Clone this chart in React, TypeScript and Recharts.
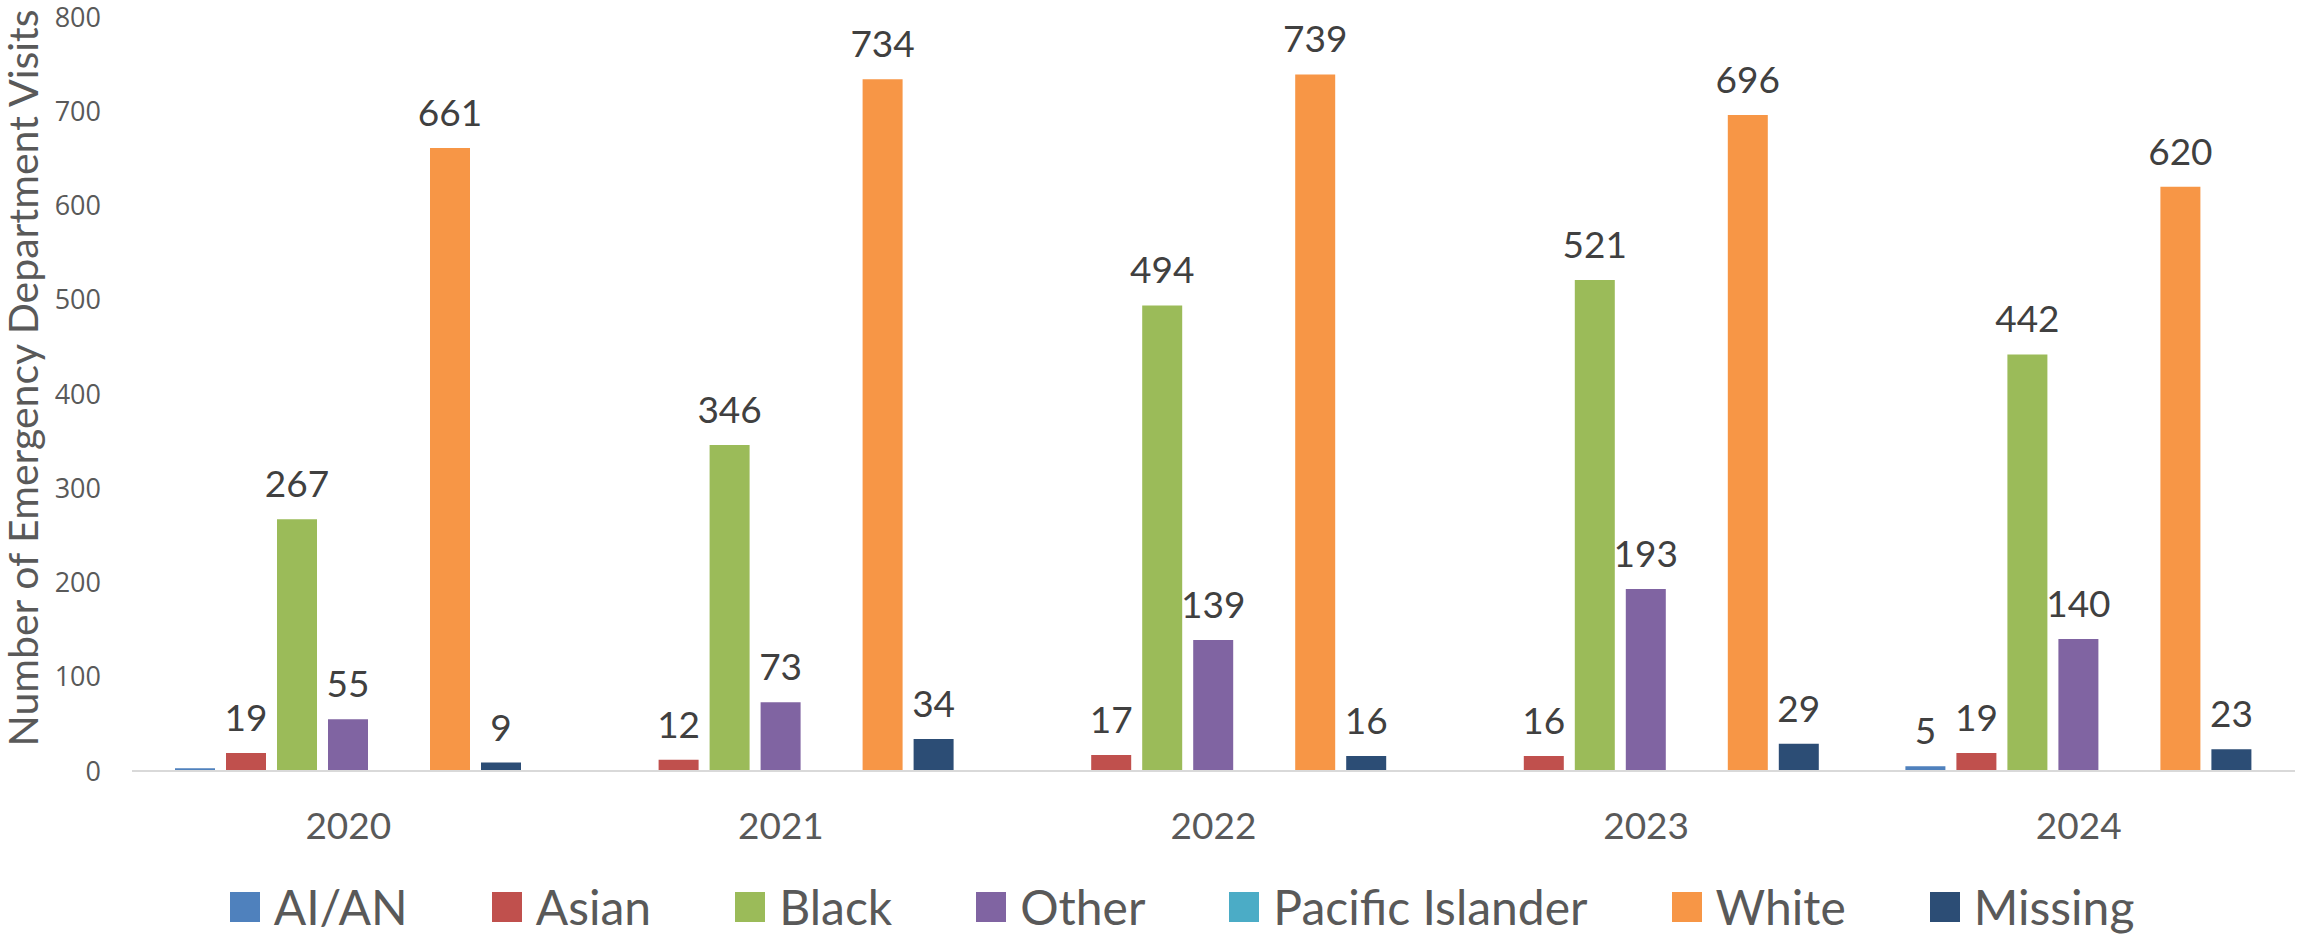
import React from 'react';
import { BarChart, Bar, XAxis, YAxis, Legend } from 'recharts';

const years = ['2020', '2021', '2022', '2023', '2024'];
const aian = [3, 0, 0, 0, 5];
const asian = [19, 12, 17, 16, 19];
const black = [267, 346, 494, 521, 442];
const other = [55, 73, 139, 193, 140];
const pacific = [0, 0, 0, 0, 1];
const white = [661, 734, 739, 696, 620];
const missing = [9, 34, 16, 29, 23];
const yTicks = [0, 100, 200, 300, 400, 500, 600, 700, 800];

const seriesNames = ['AI/AN', 'Asian', 'Black', 'Other', 'Pacific Islander', 'White', 'Missing'];
const seriesKeys = ['aian', 'asian', 'black', 'other', 'pacific', 'white', 'missing'];
const seriesValues = [aian, asian, black, other, pacific, white, missing];
const seriesColors = ['#4F81BD', '#C0504D', '#9BBB59', '#8064A2', '#4BACC6', '#F79646', '#2C4D75'];

const data = years.map((year, i) => {
  const row: Record<string, string | number> = { year };
  seriesKeys.forEach((k, s) => {
    row[k] = seriesValues[s][i];
  });
  return row;
});

const LABEL_FONT = 'Lato, "Open Sans", sans-serif';

const renderBarLabel = (props: any) => {
  const { x, y, width, value } = props;
  if (value == null || value < 5) return null;
  return (
    <text
      x={Number(x) + Number(width) / 2}
      y={Number(y) - 22}
      textAnchor="middle"
      fill="#404040"
      fontSize={37}
      fontFamily={LABEL_FONT}
    >
      {value}
    </text>
  );
};

const renderLegend = () => (
  <div
    style={{
      display: 'flex',
      justifyContent: 'center',
      alignItems: 'center',
      height: 56,
      width: 2297,
      paddingLeft: 67,
      boxSizing: 'border-box',
      fontFamily: LABEL_FONT,
      fontSize: 48,
      color: '#595959',
    }}
  >
    {seriesNames.map((n, i) => (
      <div
        key={n}
        style={{ display: 'flex', alignItems: 'center', marginRight: i < seriesNames.length - 1 ? 84 : 0 }}
      >
        <span
          style={{ width: 30, height: 30, background: seriesColors[i], marginRight: 14, display: 'inline-block' }}
        />
        <span style={{ lineHeight: '56px', whiteSpace: 'nowrap' }}>{n}</span>
      </div>
    ))}
  </div>
);

const renderYTitle = () => (
  <text
    x={22}
    y={378}
    transform="rotate(-90, 22, 378)"
    textAnchor="middle"
    dominantBaseline="central"
    fill="#595959"
    fontSize={41}
    fontFamily={LABEL_FONT}
  >
    Number of Emergency Department Visits
  </text>
);

export default function App() {
  return (
    <div style={{ position: 'absolute', left: 0, top: 0, background: '#fff' }}>
      <BarChart
        width={2297}
        height={935}
        data={data}
        margin={{ top: 17, right: 2, bottom: 0, left: 0 }}
        barCategoryGap={43}
        barGap={11}
      >
        <XAxis
          dataKey="year"
          height={108}
          tickSize={0}
          tickLine={false}
          tickMargin={42}
          axisLine={{ stroke: '#D9D9D9', strokeWidth: 2 }}
          tick={{ fill: '#595959', fontSize: 37, fontFamily: LABEL_FONT }}
        />
        <YAxis
          width={132}
          domain={[0, 800]}
          ticks={yTicks}
          interval={0}
          tickSize={0}
          tickLine={false}
          axisLine={false}
          tickMargin={31}
          tick={{ fill: '#595959', fontSize: 27, fontFamily: '"Open Sans", sans-serif' }}
          label={{ content: renderYTitle }}
        />
        <Legend verticalAlign="bottom" content={renderLegend} wrapperStyle={{ left: 0, width: 2297 }} />
        {seriesKeys.map((k, i) => (
          <Bar
            key={k}
            dataKey={k}
            name={seriesNames[i]}
            fill={seriesColors[i]}
            isAnimationActive={false}
            label={renderBarLabel}
          />
        ))}
      </BarChart>
    </div>
  );
}
